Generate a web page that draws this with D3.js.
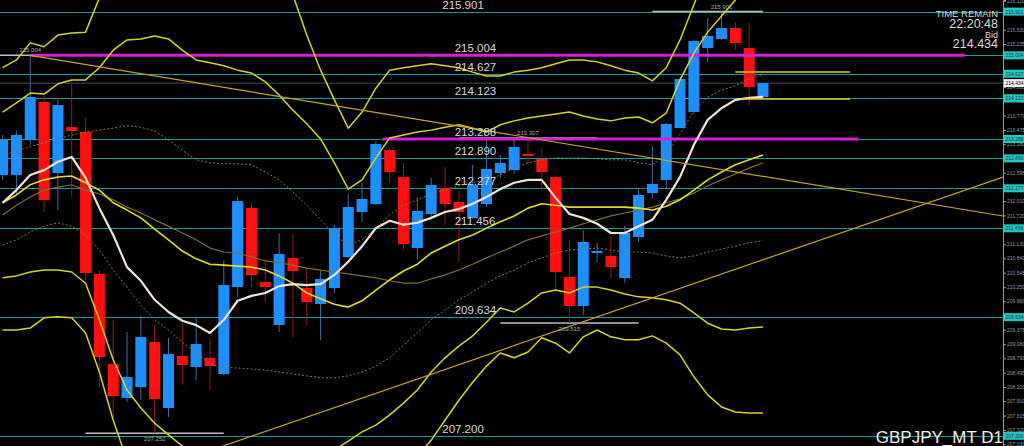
<!DOCTYPE html>
<html><head><meta charset="utf-8">
<script src="https://cdn.jsdelivr.net/npm/d3@7"></script>
<style>html,body{margin:0;padding:0;background:#000;overflow:hidden}</style>
</head><body><svg id="c" width="1024" height="446"></svg>
<script>
// ---- candle data (daily GBPJPY) ----
const openP  = [212.549,212.549,213.267,214.047,212.590,213.534,213.431,210.518,208.672,207.975,208.200,209.124,207.770,208.836,208.611,208.795,208.467,210.252,211.872,210.354,209.472,210.847,210.231,209.903,210.231,210.867,211.790,211.954,213.062,212.508,211.052,211.749,212.283,211.995,211.667,211.954,212.590,212.652,212.980,212.877,212.508,210.457,209.862,210.970,210.888,210.436,211.277,212.180,212.447,213.513,213.842,215.154,215.339,215.565,215.154,214.149];
const highP  = [213.370,213.452,215.004,214.190,214.088,214.436,213.718,210.600,209.575,209.329,209.657,209.472,209.206,209.513,209.636,209.206,210.806,212.098,211.995,210.806,211.359,211.359,210.642,210.580,211.524,212.159,212.385,213.247,213.103,212.795,212.098,212.488,212.713,212.221,212.754,213.267,212.959,213.267,213.307,213.103,212.528,211.216,211.421,211.154,211.277,211.503,212.283,213.144,213.616,214.559,215.318,215.770,215.901,215.688,215.667,214.434];
const lowP   = [212.447,212.139,213.165,211.790,211.831,212.098,210.395,208.200,207.565,207.893,207.934,207.252,207.585,208.241,208.344,208.139,208.447,210.047,210.252,209.944,209.329,209.226,209.472,209.165,210.129,210.847,211.585,211.934,212.385,211.011,210.806,211.626,211.524,210.785,211.647,211.893,212.488,212.570,212.754,212.241,210.190,209.515,209.677,210.765,210.436,210.334,211.175,212.077,212.283,213.513,213.821,214.867,215.318,215.113,213.985,214.129];
const closeP = [213.267,213.370,214.149,212.036,213.985,213.452,210.539,208.816,208.016,208.406,209.226,207.954,208.877,208.652,209.083,208.631,210.293,212.016,210.498,210.252,210.929,210.580,209.944,210.416,211.462,211.893,212.057,213.185,212.611,211.134,211.811,212.344,211.954,211.790,212.344,212.672,212.795,213.124,212.939,212.611,210.559,209.862,211.175,210.990,210.662,211.359,212.139,212.365,213.595,214.518,215.298,215.401,215.565,215.257,214.354,214.434];

// ---- indicator lines ----
const maFast = [211.98,212.24,212.55,212.65,212.82,212.92,212.49,211.87,211.32,210.66,210.38,209.99,209.74,209.56,209.47,209.31,209.58,209.97,210.07,210.13,210.27,210.31,210.29,210.31,210.50,210.77,211.09,211.46,211.61,211.53,211.57,211.67,211.79,211.85,211.96,212.10,212.26,212.39,212.45,212.45,212.08,211.75,211.67,211.55,211.36,211.36,211.50,211.63,212.04,212.51,213.17,213.68,213.92,214.09,214.13,214.15];
const bbMid  = [211.98,212.14,212.35,212.45,212.51,212.53,212.39,212.24,211.98,211.83,211.67,211.44,211.22,210.99,210.83,210.72,210.70,210.68,210.66,210.60,210.48,210.33,210.13,210.01,209.90,209.84,209.97,210.19,210.40,210.58,210.72,210.95,211.09,211.22,211.32,211.46,211.59,211.71,211.87,211.96,211.93,211.89,211.89,211.89,211.89,211.89,211.87,211.83,211.91,212.04,212.24,212.45,212.61,212.76,212.86,212.96];
const maSlow = [211.73,211.93,212.10,212.24,212.30,212.35,212.24,212.16,212.04,211.89,211.77,211.63,211.50,211.36,211.22,211.05,210.97,210.95,210.87,210.79,210.75,210.70,210.64,210.60,210.56,210.52,210.48,210.44,210.38,210.33,210.33,210.42,210.50,210.60,210.72,210.85,210.97,211.09,211.22,211.30,211.38,211.46,211.55,211.63,211.71,211.77,211.83,211.89,211.98,212.06,212.18,212.33,212.45,212.57,212.69,212.80];
const bbUp1  = [212.96,213.04,213.13,213.21,213.29,213.37,213.43,213.47,213.51,213.56,213.53,213.45,213.27,213.06,212.86,212.80,212.78,212.78,212.76,212.61,212.45,212.20,211.93,211.63,211.32,211.11,211.22,211.46,211.73,211.93,212.04,212.16,212.24,212.33,212.39,212.45,212.55,212.69,212.80,212.86,212.90,212.90,212.90,212.88,212.86,212.86,212.80,212.76,212.96,213.39,213.86,214.15,214.29,214.38,214.52,214.60];
const bbUp2  = [213.84,214.03,214.23,214.21,214.42,214.50,214.50,214.75,215.11,215.32,215.34,215.40,215.34,215.11,214.91,214.85,214.79,214.70,214.64,214.46,214.19,213.88,213.60,213.29,212.80,212.26,212.45,212.90,213.31,213.37,213.43,213.47,213.53,213.58,213.51,213.43,213.58,213.66,213.72,213.76,213.80,213.84,213.76,213.70,213.66,213.72,213.74,213.62,213.82,214.50,215.05,215.48,215.81,216.14,216.35,216.47];
const bbUp3  = [214.75,214.91,215.26,215.18,215.42,215.46,215.48,216.18,216.65,217.06,217.27,217.37,217.37,217.27,217.17,217.12,217.08,217.04,217.00,216.96,216.76,216.24,215.42,214.70,214.09,213.51,213.84,214.33,214.70,214.75,214.79,214.83,214.79,214.75,214.66,214.58,214.58,214.66,214.70,214.75,214.83,214.91,214.91,214.87,214.79,214.70,214.64,214.48,214.75,215.32,216.04,216.76,217.37,217.78,218.09,218.23];
const bbLo1  = [211.11,211.22,211.38,211.50,211.57,211.50,211.32,211.01,210.60,210.25,209.88,209.58,209.37,209.12,208.90,208.67,208.61,208.59,208.57,208.55,208.51,208.47,208.43,208.39,208.39,208.43,208.51,208.63,208.80,209.06,209.31,209.58,209.78,209.99,210.15,210.33,210.48,210.60,210.75,210.85,210.95,211.01,211.03,211.05,211.01,210.97,210.97,210.95,210.89,210.85,210.89,210.97,211.03,211.09,211.16,211.20];
const bbLo2  = [210.44,210.48,210.56,210.60,210.60,210.56,210.33,209.58,208.76,208.14,207.77,207.46,207.22,206.99,206.60,206.50,206.40,206.33,206.29,206.29,206.33,206.50,206.66,206.81,206.91,207.09,207.28,207.42,207.63,207.87,208.14,208.51,208.80,209.04,209.25,209.53,209.82,209.74,209.92,210.13,210.19,210.13,210.25,210.25,210.19,210.11,210.05,210.03,209.99,209.92,209.72,209.51,209.39,209.37,209.41,209.43];
const bbLo3  = [209.37,209.37,209.41,209.62,209.64,209.62,209.31,208.51,207.52,206.70,206.09,205.68,205.27,205.06,204.96,204.86,204.76,204.69,204.65,204.65,204.69,204.86,205.06,205.27,205.47,205.68,205.88,206.09,206.29,206.50,206.79,207.11,207.52,207.93,208.30,208.63,208.90,208.80,208.92,209.21,209.10,208.90,209.23,209.37,209.23,209.17,209.17,209.25,209.10,208.86,208.41,208.04,207.79,207.69,207.67,207.67];

// ---- horizontal levels and labels ----
const levelPrices = [215.901,215.004,214.627,214.123,213.288,212.890,212.277,211.456,209.634,207.200];
const levelLabels = ["215.901","215.004","214.627","214.123","213.288","212.890","212.277","211.456","209.634","207.200"];
const levelLabelBar = [31.8,32.7,32.7,32.7,32.7,32.7,32.7,32.7,32.7,31.8];
const magentaLevels = [[215.004,2,69.6],[213.288,27.5,61.9]];
const shortYellow = [[214.662,53,61.3],[214.108,53.3,61.3]];
const extremes = [[2,215.004,"215.004",-1],[11,207.252,"207.252",1],[38,213.307,"213.307",-1],[41,209.515,"209.515",1],[52,215.901,"215.901",-1]];
const trendDown = [[2,215.004],[72.36,211.708]];
const trendUp = [[10,206.41],[72.36,212.508]];
// ticks that are not hidden behind the level boxes
const tickValues = [207.030,207.320,207.615,207.910,208.200,208.495,208.790,209.080,209.375,209.960,210.250,210.545,210.840,211.130,211.720,212.010,212.595,213.180,213.475,213.770,214.060,214.355,215.235,215.530,216.120];
const bidPrice = 214.434;
const infoLines = ["TIME REMAIN","22:20:48","Bid","214.434"];
const symbolTitle = "GBPJPY_MT D1";

// ---- drawing ----
const W = 1024, H = 446, axisX = 1003;
const svg = d3.select("#c");
svg.append("rect").attr("width",W).attr("height",H).attr("fill","#000");
const x = d3.scaleLinear().domain([0,55]).range([2.6,763]);
const y = d3.scaleLinear().domain([206.991,216.139]).range([H,0]);
svg.append("defs").append("clipPath").attr("id","clip").append("rect").attr("x",0).attr("y",0).attr("width",axisX).attr("height",H);
const g = svg.append("g").attr("clip-path","url(#clip)");
const font = "Liberation Sans, Arial, sans-serif";

// bid line
g.append("line").attr("x1",0).attr("x2",axisX).attr("y1",y(bidPrice)).attr("y2",y(bidPrice)).attr("stroke","#4a4a4a").attr("stroke-width",1);
// cyan levels
g.selectAll(".lvl").data(levelPrices).enter().append("line")
  .attr("x1",0).attr("x2",axisX).attr("y1",d=>Math.round(y(d))+0.5).attr("y2",d=>Math.round(y(d))+0.5)
  .attr("stroke","#1b9c9c").attr("stroke-width",1);

// extreme markers (lines)
extremes.forEach(([i,p,lab,dir])=>{
  g.append("line").attr("x1",x(Math.max(i-5,-1))).attr("x2",x(Math.min(i+5,55))).attr("y1",y(p)).attr("y2",y(p))
   .attr("stroke","#bdbdbd").attr("stroke-width",1.5);
});

// candles
const idx = d3.range(openP.length);
g.selectAll(".wick").data(idx).enter().append("line")
  .attr("x1",i=>x(i)).attr("x2",i=>x(i)).attr("y1",i=>y(highP[i])).attr("y2",i=>y(lowP[i]))
  .attr("stroke",i=>closeP[i]>=openP[i]?"#3f6f9f":"#8f1c1c").attr("stroke-width",1);
g.selectAll(".body").data(idx).enter().append("rect")
  .attr("x",i=>x(i)-5.5).attr("width",11)
  .attr("y",i=>y(Math.max(openP[i],closeP[i])))
  .attr("height",i=>Math.max(2,Math.abs(y(openP[i])-y(closeP[i]))))
  .attr("fill",i=>closeP[i]>=openP[i]?"#1e8fff":"#ff1010");

// magenta levels
magentaLevels.forEach(([p,a,b])=>{
  g.append("line").attr("x1",x(a)).attr("x2",x(b)).attr("y1",y(p)).attr("y2",y(p)).attr("stroke","#d61fd6").attr("stroke-width",3);
});

// indicator lines
const line = d3.line().x((d,i)=>x(i)).y(d=>y(d));
function drawLine(arr,color,width,dash){
  const p = g.append("path").attr("d",line(arr)).attr("fill","none").attr("stroke",color).attr("stroke-width",width).attr("stroke-linejoin","round");
  if(dash) p.attr("stroke-dasharray",dash);
}
drawLine(bbLo1,"#8a7b3a",1,"2,2");
drawLine(bbUp1,"#8a7b3a",1,"2,2");
drawLine(maSlow,"#7f7030",1.2);
drawLine(bbUp3,"#d8d21e",1.5);
drawLine(bbLo3,"#d8d21e",1.5);
drawLine(bbUp2,"#d8d21e",1.5);
drawLine(bbLo2,"#d8d21e",1.5);
drawLine(bbMid,"#e2dc26",1.6);
drawLine(maFast,"#f4e4d4",2.2);

// short yellow horizontals
shortYellow.forEach(([p,a,b])=>{
  g.append("line").attr("x1",x(a)).attr("x2",x(b)).attr("y1",y(p)).attr("y2",y(p)).attr("stroke","#d8d21e").attr("stroke-width",1.3);
});

// trendlines
[trendDown,trendUp].forEach(t=>{
  g.append("line").attr("x1",x(t[0][0])).attr("y1",y(t[0][1])).attr("x2",x(t[1][0])).attr("y2",y(t[1][1]))
   .attr("stroke","#c9a227").attr("stroke-width",1.2);
});

// extreme labels
extremes.forEach(([i,p,lab,dir])=>{
  g.append("text").attr("x",x(i)).attr("y",y(p)+(dir<0?-3:8)).attr("text-anchor","middle")
   .attr("font-family",font).attr("font-size",6).attr("fill","#a8a8a8").text(lab);
});

// level labels
g.selectAll(".lt").data(levelPrices).enter().append("text")
  .attr("x",(d,i)=>x(levelLabelBar[i])).attr("y",d=>y(d)-3)
  .attr("font-family",font).attr("font-size",11.5).attr("fill","#d8d8d8")
  .text((d,i)=>levelLabels[i]);

// right axis
const ax = svg.append("g").attr("transform",`translate(${axisX},0)`)
  .call(d3.axisRight(y).tickValues(tickValues).tickFormat(d3.format(".3f")).tickSize(3).tickPadding(1));
ax.select(".domain").attr("stroke","#9a9a9a");
ax.selectAll(".tick line").attr("stroke","#9a9a9a");
ax.selectAll(".tick text").attr("fill","#9a9a9a").attr("font-size",5).attr("font-family",font);

// level boxes on axis
levelPrices.forEach((p,i)=>{
  const yy = y(p);
  svg.append("rect").attr("x",axisX+1).attr("y",yy-4).attr("width",20).attr("height",8).attr("fill","#27c4c4");
  svg.append("text").attr("x",axisX+2.5).attr("y",yy+2).attr("font-family",font).attr("font-size",5).attr("fill","#0a4040").text(levelLabels[i]);
});
svg.append("rect").attr("x",axisX+1).attr("y",y(bidPrice)-4).attr("width",20).attr("height",8).attr("fill","#f0f0f0");
svg.append("text").attr("x",axisX+2.5).attr("y",y(bidPrice)+2).attr("font-family",font).attr("font-size",5).attr("fill","#000").text(d3.format(".3f")(bidPrice));

// info text top-right
const info = svg.append("g").attr("font-family",font).attr("fill","#dcdcdc").attr("text-anchor","end");
info.append("text").attr("x",998).attr("y",17).attr("font-size",9.5).text(infoLines[0]);
info.append("text").attr("x",998).attr("y",28).attr("font-size",12.5).text(infoLines[1]);
info.append("text").attr("x",998).attr("y",37.5).attr("font-size",9).text(infoLines[2]);
info.append("text").attr("x",998).attr("y",48).attr("font-size",12.5).text(infoLines[3]);

// symbol title
svg.append("text").attr("x",1003).attr("y",443).attr("text-anchor","end").attr("font-family",font)
  .attr("font-size",17).attr("fill","#f0f0f0").text(symbolTitle);
</script>
</body></html>
